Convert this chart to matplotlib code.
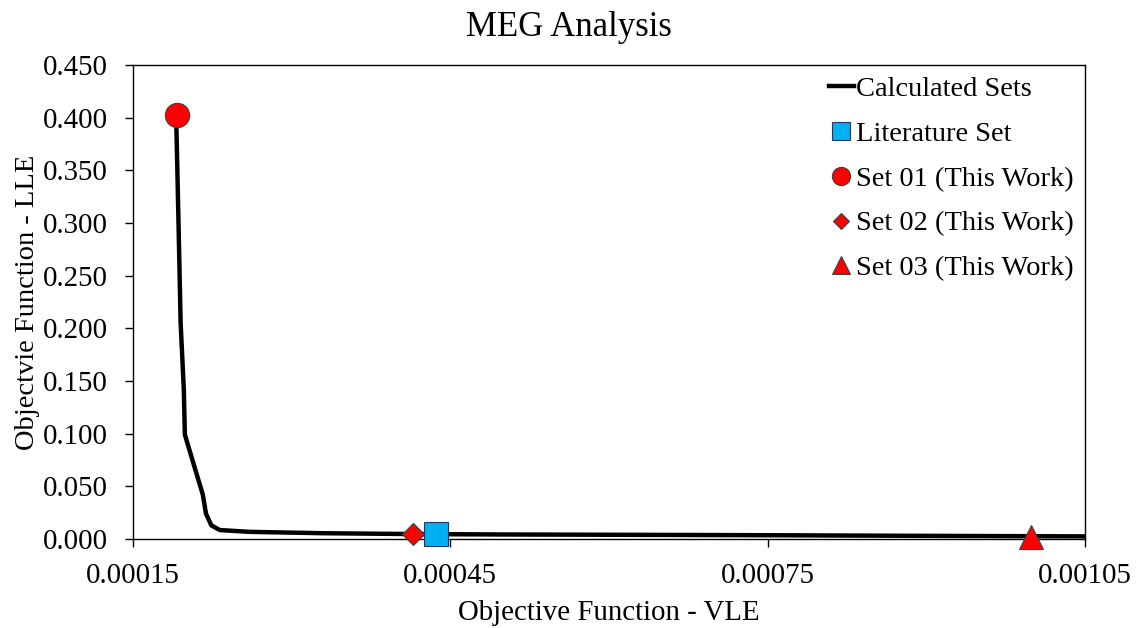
import numpy as np
import matplotlib.pyplot as plt
from matplotlib.ticker import FormatStrFormatter

plt.rcParams['font.family'] = ['Liberation Serif', 'DejaVu Serif']

# Pareto front of calculated parameter sets
calc_vle = [0.000192, 0.000191, 0.000193, 0.000195, 0.000198, 0.000199, 0.000216,
            0.000219, 0.000224, 0.000232, 0.000260, 0.000330, 0.000415, 0.000500,
            0.000650, 0.000750, 0.000900, 0.001050]
calc_lle = [0.403, 0.391, 0.300, 0.205, 0.142, 0.099, 0.042,
            0.024, 0.013, 0.0085, 0.0068, 0.0055, 0.0047, 0.0043,
            0.0039, 0.0036, 0.0030, 0.0025]

# Individual sets
lit_set = (0.000436, 0.0045)
set01 = (0.000192, 0.403)
set02 = (0.000415, 0.0045)
set03 = (0.000999, 0.0022)

fig = plt.figure(figsize=(11.38, 6.28), dpi=100)
ax = fig.add_axes([0.1169, 0.1417, 0.8365, 0.7548])

ax.plot(calc_vle, calc_lle, color='black', lw=3.2, label='Calculated Sets', zorder=2)
ax.plot(*lit_set, ls='none', marker='s', ms=17.5, mfc='#00B0F0', mec='#1F3864', mew=0.8,
        label='Literature Set', zorder=4, clip_on=False)
ax.plot(*set01, ls='none', marker='o', ms=17.5, mfc='#FF0000', mec='#404040', mew=0.8,
        label='Set 01 (This Work)', zorder=4, clip_on=False)
ax.plot(*set02, ls='none', marker='D', ms=11.5, mfc='#FF0000', mec='#404040', mew=0.8,
        label='Set 02 (This Work)', zorder=3, clip_on=False)
ax.plot(*set03, ls='none', marker='^', ms=17, mfc='#FF0000', mec='#404040', mew=0.8,
        label='Set 03 (This Work)', zorder=4, clip_on=False)

ax.set_xlim(0.00015, 0.00105)
ax.set_ylim(0, 0.45)
ax.set_xticks([0.00015, 0.00045, 0.00075, 0.00105])
ax.set_yticks(np.arange(0, 0.451, 0.05))
ax.xaxis.set_major_formatter(FormatStrFormatter('%.5f'))
ax.yaxis.set_major_formatter(FormatStrFormatter('%.3f'))
ax.tick_params(labelsize=20.8, direction='out', length=6, width=1, colors='black')
ax.tick_params(axis='x', pad=11)
ax.tick_params(axis='y', pad=12)
for s in ax.spines.values():
    s.set_linewidth(1)
    s.set_color('black')

ax.set_xlabel('Objective Function - VLE', fontsize=20.8, labelpad=8)
ax.set_ylabel('Objectvie Function - LLE', fontsize=20.5, labelpad=2)
fig.text(0.5, 0.957, 'MEG Analysis', ha='center', va='center', fontsize=25)

leg = ax.legend(loc='upper right', bbox_to_anchor=(1.003, 1.006), frameon=False,
                fontsize=20.5, markerscale=0.75, handlelength=0.85,
                handletextpad=0.08, labelspacing=0.66, borderaxespad=0.1)

fig.savefig('out.png', dpi=100)
